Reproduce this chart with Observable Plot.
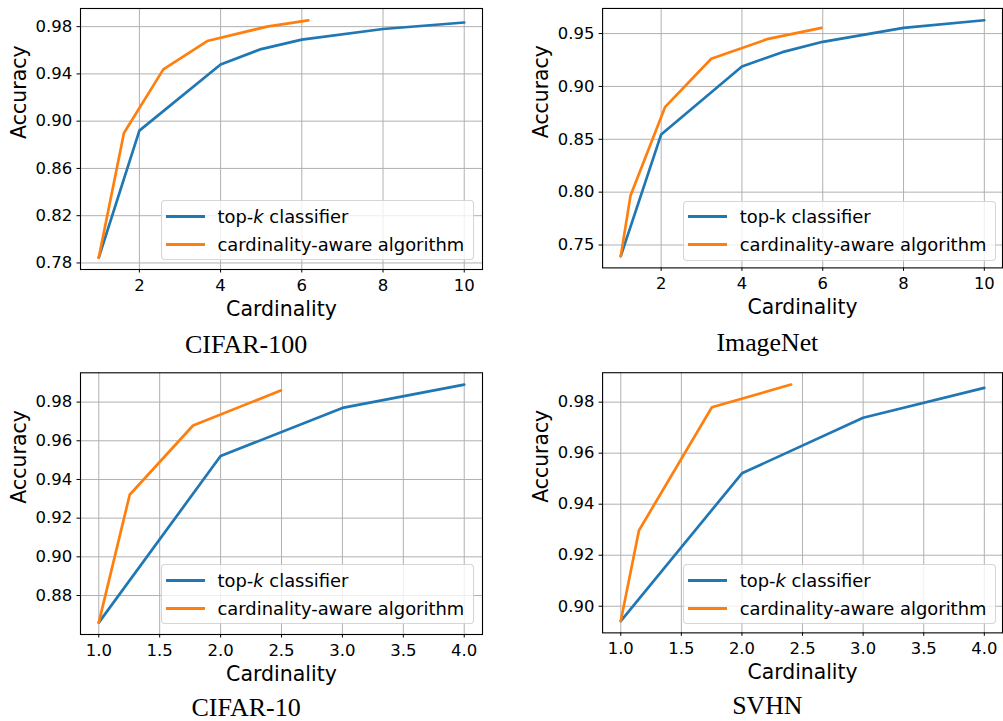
<!DOCTYPE html>
<html><head><meta charset="utf-8">
<script src="https://cdn.jsdelivr.net/npm/d3@7"></script>
<script src="https://cdn.jsdelivr.net/npm/@observablehq/plot@0.6"></script>
<style>
html,body{margin:0;padding:0;background:#fff;overflow:hidden;width:1003px;height:721px}
#root{position:relative;width:1003px;height:721px;overflow:hidden}
.panel{position:absolute}
.panel svg{overflow:visible}
.legend{position:absolute;box-sizing:border-box;border:1px solid rgba(204,204,204,0.8);border-radius:4px;background:rgba(255,255,255,0.8);font-family:"DejaVu Sans";font-size:17.9px;color:#000}
.row{position:absolute;left:0;height:0;display:flex;align-items:center;white-space:nowrap}
.sw{display:inline-block;width:39px;height:3px;margin-left:4px;margin-right:13px}
</style></head><body><div id="root"></div>
<script>
// ---- data ----
const seriesNames = ["top-k classifier", "cardinality-aware algorithm"];
const colors = ["#1f77b4", "#ff7f0e"];

const cifar100TopkX = [1, 2, 4, 5, 6, 8, 10];
const cifar100TopkY = [0.7845, 0.892, 0.948, 0.961, 0.969, 0.978, 0.9835];
const cifar100CardX = [1, 1.62, 2.59, 3.67, 5.14, 6.16];
const cifar100CardY = [0.7845, 0.890, 0.9438, 0.9678, 0.980, 0.9853];
const cifar100XTicks = [2, 4, 6, 8, 10];
const cifar100YTicks = [0.78, 0.82, 0.86, 0.90, 0.94, 0.98];

const imagenetTopkX = [1, 2, 4, 5, 6, 8, 10];
const imagenetTopkY = [0.7395, 0.8546, 0.9189, 0.9324, 0.9422, 0.9554, 0.9626];
const imagenetCardX = [1, 1.24, 2.10, 3.24, 4.65, 5.97];
const imagenetCardY = [0.7395, 0.7965, 0.8807, 0.9262, 0.945, 0.9554];
const imagenetXTicks = [2, 4, 6, 8, 10];
const imagenetYTicks = [0.75, 0.80, 0.85, 0.90, 0.95];

const cifar10TopkX = [1, 2, 3, 4];
const cifar10TopkY = [0.866, 0.9521, 0.977, 0.989];
const cifar10CardX = [1, 1.254, 1.774, 2.494];
const cifar10CardY = [0.866, 0.9321, 0.9679, 0.986];
const cifar10XTicks = [1.0, 1.5, 2.0, 2.5, 3.0, 3.5, 4.0];
const cifar10YTicks = [0.88, 0.90, 0.92, 0.94, 0.96, 0.98];

const svhnTopkX = [1, 2, 3, 4];
const svhnTopkY = [0.8942, 0.9521, 0.9739, 0.9856];
const svhnCardX = [1, 1.15, 1.752, 2.405];
const svhnCardY = [0.8942, 0.9297, 0.978, 0.9869];
const svhnXTicks = [1.0, 1.5, 2.0, 2.5, 3.0, 3.5, 4.0];
const svhnYTicks = [0.90, 0.92, 0.94, 0.96, 0.98];

const titles = ["CIFAR-100", "ImageNet", "CIFAR-10", "SVHN"];

// ---- build ----
function rows(xs, ys) { return xs.map((x, i) => ({x, y: ys[i]})); }
function padded(vals) {
  const [a, b] = d3.extent(vals); const p = (b - a) * 0.05; return [a - p, b + p];
}

const root = document.getElementById("root");

function panel(cfg) {
  const top = rows(cfg.tx, cfg.ty), card = rows(cfg.cx, cfg.cy);
  const all = top.concat(card);
  const xDomain = padded(all.map(d => d.x));
  const yDomain = padded(all.map(d => d.y));
  const grid = {stroke: "#b0b0b0", strokeOpacity: 1, strokeWidth: 1};
  const svg = Plot.plot({
    width: cfg.width, height: cfg.height,
    marginLeft: cfg.ml, marginRight: cfg.mr, marginTop: cfg.mt, marginBottom: cfg.mb,
    style: {fontFamily: "DejaVu Sans", background: "white", color: "black"},
    x: {domain: xDomain},
    y: {domain: yDomain},
    marks: [
      Plot.gridX(cfg.xt, grid),
      Plot.gridY(cfg.yt, grid),
      Plot.line(top, {x: "x", y: "y", stroke: colors[0], strokeWidth: 2.7}),
      Plot.line(card, {x: "x", y: "y", stroke: colors[1], strokeWidth: 2.7}),
      Plot.frame({stroke: "black", strokeWidth: 1.1}),
      Plot.axisX(cfg.xt, {tickSize: 3.5, tickPadding: 6.5, fontSize: 16.5, tickFormat: cfg.xf, label: null}),
      Plot.axisY(cfg.yt, {tickSize: 3.5, tickPadding: 4.8, fontSize: 16.5, tickFormat: d3.format(".2f"), label: null}),
      Plot.text(["Cardinality"], {text: d => d, frameAnchor: "bottom", dy: 39.5, fontSize: 20.5, lineAnchor: "middle"}),
      Plot.text(["Accuracy"], {text: d => d, frameAnchor: "left", dx: -61, rotate: -90, fontSize: 20.5, lineAnchor: "middle"}),
      Plot.text([cfg.title], {text: d => d, frameAnchor: "bottom", dx: -35.4, dy: cfg.tdy, fontSize: 26, lineAnchor: "middle", fontFamily: "Liberation Serif"})
    ]
  });
  const wrap = document.createElement("div");
  wrap.className = "panel";
  wrap.style.left = cfg.left + "px"; wrap.style.top = cfg.top + "px";
  wrap.appendChild(svg);
  root.appendChild(wrap);

  const lg = document.createElement("div");
  lg.className = "legend";
  lg.style.left = cfg.lgx + "px"; lg.style.top = cfg.lgy + "px";
  lg.style.width = "313px"; lg.style.height = "60px";
  seriesNames.forEach((name, i) => {
    const r = document.createElement("div");
    r.className = "row"; r.style.top = (i === 0 ? 15 : 43) + "px";
    const sw = document.createElement("span"); sw.className = "sw"; sw.style.background = colors[i];
    const t = document.createElement("span");
    if (i === 0) {
      const parts = name.split("k");
      t.append(parts[0]);
      if (cfg.italicK) { const it = document.createElement("i"); it.textContent = "k"; t.append(it); }
      else t.append("k");
      t.append(parts.slice(1).join("k"));
    } else t.textContent = name;
    r.appendChild(sw); r.appendChild(t); lg.appendChild(r);
  });
  root.appendChild(lg);
}

const intFmt = d3.format("d"), oneFmt = d3.format(".1f");
panel({left: 0, top: 0, width: 500, height: 360, ml: 80, mr: 18, mt: 8, mb: 91,
  tx: cifar100TopkX, ty: cifar100TopkY, cx: cifar100CardX, cy: cifar100CardY,
  xt: cifar100XTicks, yt: cifar100YTicks, xf: intFmt, title: titles[0], tdy: 75.4,
  lgx: 160.5, lgy: 200, italicK: true});
panel({left: 500, top: 0, width: 506, height: 360, ml: 102.7, mr: 1, mt: 8, mb: 91,
  tx: imagenetTopkX, ty: imagenetTopkY, cx: imagenetCardX, cy: imagenetCardY,
  xt: imagenetXTicks, yt: imagenetYTicks, xf: intFmt, title: titles[1], tdy: 75.4,
  lgx: 682.7, lgy: 200.5, italicK: false});
panel({left: 0, top: 360, width: 500, height: 361, ml: 80, mr: 18, mt: 12.3, mb: 87,
  tx: cifar10TopkX, ty: cifar10TopkY, cx: cifar10CardX, cy: cifar10CardY,
  xt: cifar10XTicks, yt: cifar10YTicks, xf: oneFmt, title: titles[2], tdy: 73,
  lgx: 160.5, lgy: 564.3, italicK: true});
panel({left: 500, top: 360, width: 506, height: 361, ml: 102.7, mr: 1, mt: 12.3, mb: 87,
  tx: svhnTopkX, ty: svhnTopkY, cx: svhnCardX, cy: svhnCardY,
  xt: svhnXTicks, yt: svhnYTicks, xf: oneFmt, title: titles[3], tdy: 73,
  lgx: 682.7, lgy: 564.3, italicK: true});
</script>
</body></html>
